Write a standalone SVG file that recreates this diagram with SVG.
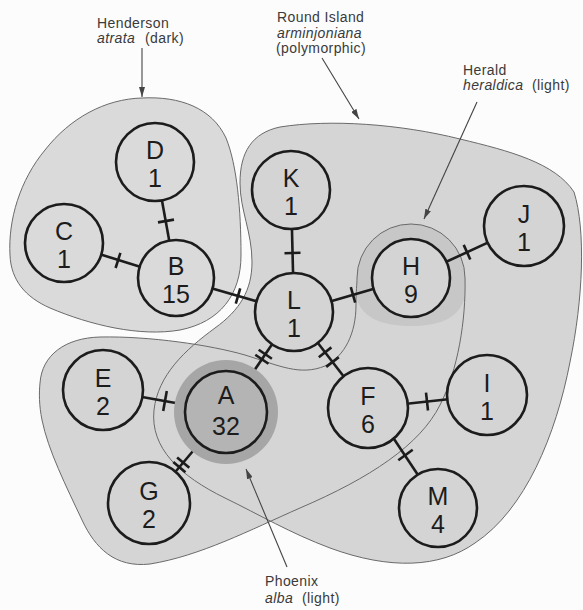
<svg xmlns="http://www.w3.org/2000/svg" width="583" height="610" viewBox="0 0 583 610">
<defs>
<style>
.reg{stroke:#6a6a6a;stroke-width:1;fill:none}
.node{stroke:#1c1c1c;stroke-width:2.6;fill:#d4d4d4}
.hn{fill:#dadada}
.nt{font-family:"Liberation Sans",Arial,sans-serif;font-size:25px;fill:#1c1c1c;text-anchor:middle}
.edge{stroke:#1c1c1c;stroke-width:2.6;fill:none}
.tick{stroke:#1c1c1c;stroke-width:2.6}
.lbl{font-family:"Liberation Sans",Arial,sans-serif;font-size:14px;fill:#3a3a3a;letter-spacing:0.4px}
.it{font-style:italic}
.arr{stroke:#444;stroke-width:1.1;fill:none;marker-end:url(#ah)}
</style>
<marker id="ah" viewBox="0 0 10 6" refX="10" refY="3" markerWidth="10" markerHeight="6" markerUnits="userSpaceOnUse" orient="auto"><path d="M0,0 L10,3 L0,6 Z" fill="#444"/></marker>
</defs>
<rect width="583" height="610" fill="#fcfcfc"/>

<g id="regions">
<path id="henderson-region" d="M142,98 C180,96 212,108 226,138 C237,165 241,210 241,255 C241,295 220,322 180,330 C140,337 90,325 50,308 C25,297 11,280 10,255 C8,220 20,180 45,150 C70,118 105,99 142,98 Z" fill="#dadada" stroke="none"/>
<path id="phoenix-fill" d="M40,383 C42,355 65,338 100,337 C150,336 210,345 245,355 C280,366 300,376 325,366 C345,356 356,333 356,305 C356,290 357,285 357,278 A54,54 0 0 1 465,278 C466,320 458,370 440,405 C420,445 370,478 300,508 C250,530 200,556 150,564 C115,568 95,548 82,520 C66,486 48,450 42,420 C39,405 39,393 40,383 Z" fill="#d5d5d5" stroke="none"/>
<path id="round-fill" d="M280,127 C330,119 400,124 460,139 C510,151 555,163 574,192 C586,230 583,300 570,362 C556,435 525,510 475,543 C440,568 390,570 330,548 C290,533 260,515 225,498 C180,476 150,448 154,410 C158,375 185,350 215,328 C240,310 252,290 252,262 C252,232 240,210 240,183 C240,152 252,133 280,127 Z" fill="#d5d5d5" stroke="none"/>
<path id="herald-halo" d="M357,300 L357,278 A54,54 0 0 1 465,278 L464,300 C457,320 436,326 411,326 C386,326 364,320 357,300 Z" fill="#c7c7c7"/>
<path class="reg" d="M142,98 C180,96 212,108 226,138 C237,165 241,210 241,255 C241,295 220,322 180,330 C140,337 90,325 50,308 C25,297 11,280 10,255 C8,220 20,180 45,150 C70,118 105,99 142,98 Z"/>
<path class="reg" d="M40,383 C42,355 65,338 100,337 C150,336 210,345 245,355 C280,366 300,376 325,366 C345,356 356,333 356,305 C356,290 357,285 357,278 A54,54 0 0 1 465,278 C466,320 458,370 440,405 C420,445 370,478 300,508 C250,530 200,556 150,564 C115,568 95,548 82,520 C66,486 48,450 42,420 C39,405 39,393 40,383 Z"/>
<path class="reg" d="M280,127 C330,119 400,124 460,139 C510,151 555,163 574,192 C586,230 583,300 570,362 C556,435 525,510 475,543 C440,568 390,570 330,548 C290,533 260,515 225,498 C180,476 150,448 154,410 C158,375 185,350 215,328 C240,310 252,290 252,262 C252,232 240,210 240,183 C240,152 252,133 280,127 Z"/>
</g>

<g id="connectors">
<line class="edge" x1="155" y1="162" x2="176" y2="278"/>
<line class="tick" x1="158" y1="222.4" x2="174" y2="219.6"/>
<line class="edge" x1="64" y1="243" x2="176" y2="278"/>
<line class="tick" x1="115.6" y1="268" x2="120.4" y2="252.8"/>
<line class="edge" x1="176" y1="278" x2="294" y2="312"/>
<line class="tick" x1="235.8" y1="303.7" x2="240.2" y2="288.3"/>
<line class="edge" x1="291" y1="190" x2="294" y2="312"/>
<line class="tick" x1="284.5" y1="253.2" x2="300.5" y2="252.8"/>
<line class="edge" x1="294" y1="312" x2="411" y2="278"/>
<line class="tick" x1="350.8" y1="287.2" x2="355.2" y2="302.6"/>
<line class="edge" x1="411" y1="278" x2="524" y2="226"/>
<line class="tick" x1="463.7" y1="244.9" x2="470.3" y2="259.5"/>
<line class="edge" x1="294" y1="312" x2="226" y2="412"/>
<line class="tick" x1="258.7" y1="349.7" x2="271.9" y2="358.7"/>
<line class="tick" x1="255.3" y1="354.7" x2="268.5" y2="363.7"/>
<line class="edge" x1="294" y1="312" x2="368" y2="408"/>
<line class="tick" x1="318.8" y1="357.2" x2="331.4" y2="347.4"/>
<line class="tick" x1="326.2" y1="366.9" x2="338.8" y2="357.1"/>
<line class="edge" x1="103" y1="390" x2="226" y2="412"/>
<line class="tick" x1="166.8" y1="391" x2="163.2" y2="411"/>
<line class="edge" x1="149" y1="503" x2="226" y2="412"/>
<line class="tick" x1="173.3" y1="461.9" x2="185.5" y2="472.3"/>
<line class="tick" x1="177.1" y1="457.4" x2="189.3" y2="467.8"/>
<line class="edge" x1="368" y1="408" x2="487" y2="395"/>
<line class="tick" x1="426" y1="392.7" x2="428" y2="410.5"/>
<line class="edge" x1="372" y1="406" x2="440" y2="508"/>
<line class="tick" x1="398.3" y1="460.3" x2="412.7" y2="449.7"/>
</g>

<g id="node-D"><circle class="node hn" cx="155" cy="162" r="39"/><text class="nt" x="155" y="159">D</text><text class="nt" x="155" y="187">1</text></g>
<g id="node-C"><circle class="node hn" cx="64" cy="243" r="39"/><text class="nt" x="64" y="240">C</text><text class="nt" x="64" y="268">1</text></g>
<g id="node-B"><circle class="node hn" cx="176" cy="278" r="38"/><text class="nt" x="176" y="275">B</text><text class="nt" x="176" y="303">15</text></g>
<g id="node-K"><circle class="node" cx="291" cy="190" r="39"/><text class="nt" x="291" y="187">K</text><text class="nt" x="291" y="215">1</text></g>
<g id="node-L"><circle class="node" cx="294" cy="312" r="39"/><text class="nt" x="294" y="309">L</text><text class="nt" x="294" y="337">1</text></g>
<g id="node-H"><circle class="node" cx="411" cy="278" r="39"/><text class="nt" x="411" y="275">H</text><text class="nt" x="411" y="303">9</text></g>
<g id="node-J"><circle class="node" cx="524" cy="226" r="40"/><text class="nt" x="524" y="223">J</text><text class="nt" x="524" y="251">1</text></g>
<g id="node-E"><circle class="node" cx="103" cy="390" r="40"/><text class="nt" x="103" y="387">E</text><text class="nt" x="103" y="415">2</text></g>
<g id="node-A"><circle cx="226" cy="412" r="52" fill="#a6a6a6"/><circle class="node" cx="226" cy="412" r="41" style="fill:#b4b4b4"/><text class="nt" x="226" y="404">A</text><text class="nt" x="226" y="435">32</text></g>
<g id="node-G"><circle class="node" cx="149" cy="503" r="41"/><text class="nt" x="149" y="500">G</text><text class="nt" x="149" y="528">2</text></g>
<g id="node-F"><circle class="node" cx="368" cy="408" r="40"/><text class="nt" x="368" y="405">F</text><text class="nt" x="368" y="433">6</text></g>
<g id="node-I"><circle class="node" cx="487" cy="395" r="40"/><text class="nt" x="487" y="392">I</text><text class="nt" x="487" y="420">1</text></g>
<g id="node-M"><circle class="node" cx="438" cy="508" r="39"/><text class="nt" x="438" y="505">M</text><text class="nt" x="438" y="533">4</text></g>

<g id="labels">
<text class="lbl" x="97" y="28">Henderson</text>
<text class="lbl" x="97" y="43"><tspan class="it">atrata</tspan><tspan x="145">(dark)</tspan></text>
<text class="lbl" x="277" y="22">Round Island</text>
<text class="lbl it" x="277" y="38">arminjoniana</text>
<text class="lbl" x="276" y="53">(polymorphic)</text>
<text class="lbl" x="463" y="75">Herald</text>
<text class="lbl" x="463" y="90"><tspan class="it">heraldica</tspan><tspan x="532">(light)</tspan></text>
<text class="lbl" x="265" y="586">Phoenix</text>
<text class="lbl" x="265" y="603"><tspan class="it">alba</tspan><tspan x="302">(light)</tspan></text>
<path class="arr" d="M142,48 L142,97"/>
<path class="arr" d="M322,58 L359,119"/>
<path class="arr" d="M477,102 L424,219"/>
<path class="arr" d="M287,567 L246,469"/>
</g>
</svg>
